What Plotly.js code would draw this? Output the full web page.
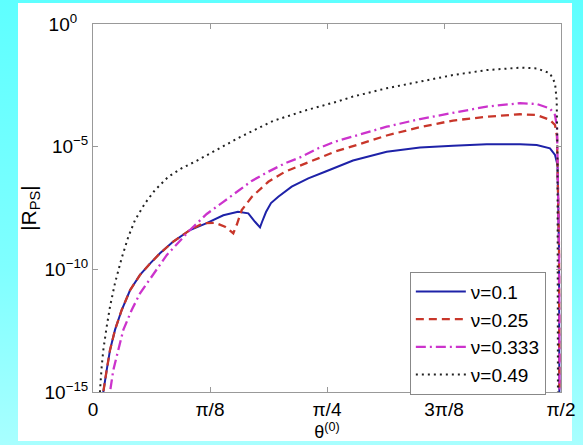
<!DOCTYPE html>
<html>
<head>
<meta charset="utf-8">
<script src="https://cdn.plot.ly/plotly-3.0.1.min.js"></script>
<style>
  html, body { margin:0; padding:0; width:583px; height:445px; overflow:hidden;
    background: linear-gradient(to bottom, #5EFFFF 0%, #7FFFFF 60%, #A8FFFF 100%); }
  #panel { position:absolute; left:18px; top:3px; width:554px; height:438px; background:#ffffff; }
  #chart { position:absolute; left:0; top:0; width:583px; height:445px; }
</style>
</head>
<body>
<div id="panel"></div>
<div id="chart"></div>
<script>
// theta^(0) in degrees (axis labelled in multiples of pi/8 = 22.5 deg)
const theta_nu01 = [1.9, 1.98, 2.63, 3.27, 4.23, 5.52, 7.12, 9.04, 10.96, 12.88, 15.44, 18.65, 21.87, 25.06, 27.88, 29.87, 31.15, 32.12, 32.5, 33.27, 34.23, 35.63, 38.21, 41.40, 44.62, 48.46, 50.0, 56.48, 62.88, 69.23, 75.71, 82.12, 85.33, 87.88, 88.85, 89.33, 89.62, 89.7];
const R_nu01 = [3.2e-16, 1.0e-15, 7.8e-15, 5.1e-14, 3.4e-13, 2.2e-12, 1.4e-11, 5.9e-11, 1.7e-10, 4.5e-10, 1.35e-9, 4.0e-9, 7.6e-9, 1.6e-8, 2.2e-8, 1.92e-8, 8.7e-9, 5.15e-9, 8.5e-9, 2.17e-8, 5.0e-8, 9.1e-8, 2.33e-7, 5.1e-7, 9.5e-7, 2.1e-6, 2.72e-6, 6.2e-6, 9.3e-6, 1.1e-5, 1.26e-5, 1.26e-5, 1.17e-5, 8.5e-6, 4.6e-6, 1.8e-6, 6.2e-10, 1e-16];

const theta_nu025 = [1.9, 1.98, 2.63, 3.27, 4.23, 5.52, 7.12, 9.04, 10.96, 12.88, 15.44, 18.65, 21.21, 23.46, 25.38, 26.98, 27.63, 28.6, 30.52, 33.71, 36.92, 40.13, 43.33, 46.54, 50.0, 56.48, 62.88, 69.23, 75.71, 82.12, 85.33, 87.88, 88.85, 89.23, 89.62, 89.7];
const R_nu025 = [3.2e-16, 1.0e-15, 7.8e-15, 5.1e-14, 3.4e-13, 2.2e-12, 1.4e-11, 5.9e-11, 1.7e-10, 4.5e-10, 1.35e-9, 4.0e-9, 7.6e-9, 7.9e-9, 5.5e-9, 2.95e-9, 6.4e-9, 2.6e-8, 8.9e-8, 3.7e-7, 9.5e-7, 1.8e-6, 3.35e-6, 6.3e-6, 1.05e-5, 2.85e-5, 6.3e-5, 1.16e-4, 1.66e-4, 2.1e-4, 1.95e-4, 1.23e-4, 7.6e-5, 2.6e-5, 6.2e-10, 1e-16];

const theta_nu0333 = [3.17, 3.27, 3.90, 4.87, 5.83, 7.44, 9.04, 10.96, 14.17, 18.65, 21.87, 25.0, 27.31, 30.52, 33.71, 36.92, 40.13, 43.33, 46.54, 50.0, 56.48, 62.88, 69.23, 75.71, 82.12, 85.33, 87.88, 88.85, 89.23, 89.62, 89.7];
const R_nu0333 = [2.0e-16, 1.0e-15, 7.8e-15, 5.1e-14, 3.4e-13, 2.2e-12, 1.05e-11, 4.0e-11, 3.8e-10, 4.0e-9, 1.8e-8, 5.5e-8, 1.29e-7, 4.0e-7, 9.5e-7, 2.1e-6, 3.9e-6, 8.6e-6, 1.6e-5, 2.55e-5, 6.5e-5, 1.34e-4, 2.47e-4, 4.3e-4, 5.9e-4, 5.5e-4, 3.6e-4, 1.95e-4, 6.5e-5, 6.2e-10, 1e-16];

const theta_nu049 = [1.25, 1.35, 1.67, 1.98, 2.63, 3.27, 4.23, 5.52, 6.79, 8.08, 10.0, 11.92, 14.48, 17.06, 19.62, 23.79, 28.27, 34.62, 41.1, 46.87, 50.0, 56.48, 62.88, 69.23, 75.71, 82.12, 85.33, 87.88, 88.85, 89.17, 89.33, 89.42];
const R_nu049 = [1.8e-16, 1.2e-15, 1.07e-14, 5.1e-14, 4.6e-13, 3.0e-12, 2.75e-11, 2.9e-10, 2.1e-9, 1.02e-8, 4.9e-8, 1.7e-7, 5.9e-7, 1.32e-6, 2.45e-6, 7.2e-6, 2.45e-5, 1.12e-4, 3.1e-4, 6.8e-4, 1.1e-3, 2.4e-3, 4.5e-3, 8.3e-3, 1.32e-2, 1.66e-2, 1.55e-2, 9.8e-3, 3.9e-3, 7.9e-4, 3.2e-6, 1e-16];

const seriesNames = ['\u03bd=0.1', '\u03bd=0.25', '\u03bd=0.333', '\u03bd=0.49'];
const xTickVals = [0, 22.5, 45, 67.5, 90];
const xTickText = ['0', '\u03c0/8', '\u03c0/4', '3\u03c0/8', '\u03c0/2'];
const yTickVals = [1e-15, 1e-10, 1e-5, 1];
const yTickText = ['10<sup>\u221215</sup>', '10<sup>\u221210</sup>', '10<sup>\u22125</sup>', '10<sup>0\u00a0\u00a0\u00a0</sup>'];

const FONT = '"Liberation Sans", Arial, Helvetica, sans-serif';

const traces = [
  {x: theta_nu01, y: R_nu01, name: seriesNames[0], mode: 'lines',
   line: {color: '#1E22A8', width: 2, dash: 'solid'}},
  {x: theta_nu025, y: R_nu025, name: seriesNames[1], mode: 'lines',
   line: {color: '#C8362A', width: 2.3, dash: '8px,5px'}},
  {x: theta_nu0333, y: R_nu0333, name: seriesNames[2], mode: 'lines',
   line: {color: '#CC33CC', width: 2.3, dash: '10px,4px,2px,4px'}},
  {x: theta_nu049, y: R_nu049, name: seriesNames[3], mode: 'lines',
   line: {color: '#222222', width: 2, dash: '2px,4px'}}
];

const axisCommon = {
  showline: true, linecolor: '#999999', linewidth: 1, mirror: 'ticks',
  ticks: 'inside', ticklen: 5, tickcolor: '#999999', tickwidth: 1,
  showgrid: false, zeroline: false,
  tickfont: {family: FONT, size: 19, color: '#000000'}
};

const layout = {
  width: 583, height: 445,
  margin: {l: 93, r: 22, t: 24, b: 53},
  paper_bgcolor: 'rgba(0,0,0,0)',
  plot_bgcolor: '#ffffff',
  showlegend: true,
  font: {family: FONT, size: 19, color: '#000000'},
  xaxis: Object.assign({}, axisCommon, {
    range: [0, 90], tickmode: 'array', tickvals: xTickVals, ticktext: xTickText,
    title: {text: '\u03b8<sup>(0)</sup>', font: {family: FONT, size: 18, color: '#000'}, standoff: 0}
  }),
  yaxis: Object.assign({}, axisCommon, {
    type: 'log', range: [-15, 0], tickmode: 'array', tickvals: yTickVals, ticktext: yTickText,
    title: {text: '|R<sub>PS</sub>|', font: {family: FONT, size: 21, color: '#000'}, standoff: 2}
  }),
  legend: {
    x: 0.677, y: 0.327, xanchor: 'left', yanchor: 'top',
    bgcolor: '#ffffff', bordercolor: '#888888', borderwidth: 1,
    font: {family: FONT, size: 19, color: '#000'},
    itemwidth: 50,
    tracegroupgap: 0
  }
};

Plotly.newPlot('chart', traces, layout, {displayModeBar: false, staticPlot: true});
</script>
</body>
</html>
